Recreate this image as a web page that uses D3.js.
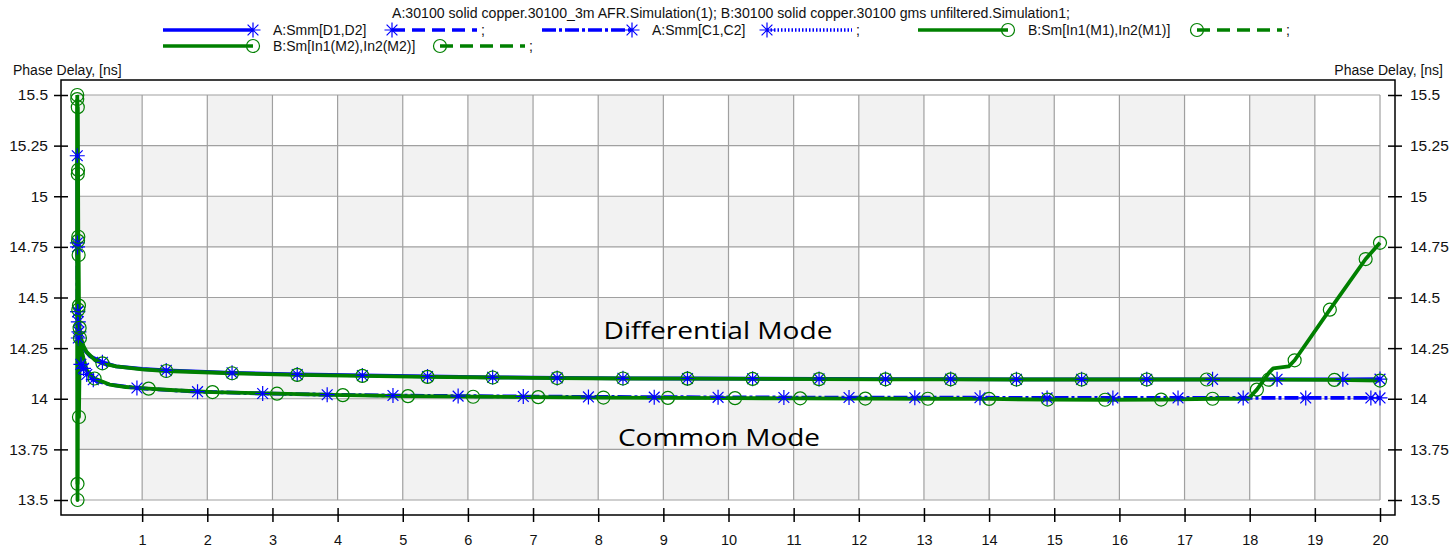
<!DOCTYPE html>
<html>
<head>
<meta charset="utf-8">
<script src="https://cdn.jsdelivr.net/npm/d3@7"></script>
<style>
body { margin: 0; background: #fff; }
svg { display: block; font-family: "Liberation Sans", Arial, sans-serif; }
</style>
</head>
<body>
<svg></svg>
<script>
const width = 1450;
const height = 548;

const title = "A:30100 solid copper.30100_3m AFR.Simulation(1); B:30100 solid copper.30100 gms unfiltered.Simulation1;";
const yTitle = "Phase Delay, [ns]";
const xTicks = d3.range(1, 21);
const yTicks = [13.5, 13.75, 14, 14.25, 14.5, 14.75, 15, 15.25, 15.5];
const seriesNames = ["A:Smm[D1,D2]", "A:Smm[C1,C2]", "B:Sm[In1(M1),In2(M1)]", "B:Sm[In1(M2),In2(M2)]"];
const notes = ["Differential Mode", "Common Mode"];

// A: differential (blue, solid, asterisks)
const dX = [0.004, 0.008, 0.012, 0.02, 0.03, 0.05, 0.08, 0.12, 0.2, 0.39, 0.6, 1.0, 1.37, 2.38, 3.38, 4.38, 5.38, 6.38, 7.37, 8.38, 9.37, 10.37, 11.39, 12.41, 13.41, 14.42, 15.42, 16.42, 17.43, 18.42, 19.43, 20];
const dY = [15.2, 14.75, 14.43, 14.38, 14.33, 14.3, 14.27, 14.24, 14.21, 14.18, 14.16, 14.147, 14.14, 14.128, 14.12, 14.115, 14.11, 14.106, 14.103, 14.101, 14.1, 14.099, 14.098, 14.097, 14.097, 14.096, 14.096, 14.096, 14.096, 14.096, 14.096, 14.097];
const dMarks = [0.004, 0.008, 0.012, 0.02, 0.03, 0.39, 1.37, 2.38, 3.38, 4.38, 5.38, 6.38, 7.37, 8.38, 9.37, 10.37, 11.39, 12.41, 13.41, 14.42, 15.42, 16.42, 17.43, 18.42, 19.43, 20];

// A: common (blue, dash-dot, asterisks)
const cX = [0.006, 0.01, 0.02, 0.04, 0.06, 0.1, 0.15, 0.25, 0.5, 0.92, 1.3, 1.85, 2.85, 3.84, 4.85, 5.85, 6.85, 7.85, 8.86, 9.84, 10.85, 11.85, 12.86, 13.86, 14.89, 15.9, 16.9, 17.9, 18.86, 19.86, 20];
const cY = [14.77, 14.43, 14.3, 14.22, 14.17, 14.15, 14.12, 14.094, 14.07, 14.053, 14.045, 14.035, 14.026, 14.02, 14.016, 14.013, 14.011, 14.009, 14.008, 14.007, 14.006, 14.006, 14.005, 14.005, 14.004, 14.004, 14.004, 14.004, 14.004, 14.004, 14.004];
const cMarks = [0.006, 0.01, 0.02, 0.06, 0.1, 0.15, 0.25, 0.92, 1.85, 2.85, 3.84, 4.85, 5.85, 6.85, 7.85, 8.86, 9.84, 10.85, 11.85, 12.86, 13.86, 14.89, 15.9, 16.9, 17.9, 18.86, 19.86, 20];

// B: M1 (green, solid, circles) - upper
const m1X = [0.004, 0.008, 0.012, 0.016, 0.02, 0.025, 0.03, 0.04, 0.06, 0.1, 0.15, 0.28, 0.39, 0.6, 1.0, 1.37, 2.38, 3.38, 4.38, 5.38, 6.38, 7.37, 8.38, 9.37, 10.37, 11.39, 12.41, 13.41, 14.42, 15.42, 16.42, 17.34, 18.29, 19.3, 20];
const m1Y = [15.5, 13.5, 15.44, 15.13, 14.8, 14.71, 14.46, 14.35, 14.3, 14.26, 14.23, 14.19, 14.175, 14.16, 14.145, 14.137, 14.126, 14.118, 14.113, 14.108, 14.105, 14.102, 14.1, 14.099, 14.098, 14.097, 14.096, 14.096, 14.095, 14.095, 14.095, 14.095, 14.094, 14.093, 14.09];
const m1Marks = [0.004, 0.008, 0.012, 0.016, 0.02, 0.025, 0.03, 0.04, 0.39, 1.37, 2.38, 3.38, 4.38, 5.38, 6.38, 7.37, 8.38, 9.37, 10.37, 11.39, 12.41, 13.41, 14.42, 15.42, 16.42, 17.34, 18.29, 19.3, 20];

// B: M2 (green, solid, circles) - lower, rises after 18
const m2X = [0.004, 0.008, 0.012, 0.016, 0.02, 0.03, 0.045, 0.07, 0.1, 0.15, 0.27, 0.5, 0.75, 1.1, 1.5, 2.08, 3.07, 4.08, 5.08, 6.08, 7.08, 8.08, 9.07, 10.1, 11.1, 12.1, 13.06, 14.0, 14.9, 15.78, 16.64, 17.43, 17.98, 18.11, 18.3, 18.36, 18.6, 18.69, 19.23, 19.78, 20];
const m2Y = [15.48, 13.58, 15.11, 14.78, 14.44, 13.91, 14.3, 14.24, 14.2, 14.14, 14.1, 14.07, 14.058, 14.05, 14.042, 14.033, 14.025, 14.018, 14.013, 14.01, 14.008, 14.006, 14.004, 14.003, 14.002, 14.001, 14.0, 13.999, 13.996, 13.995, 13.996, 14.0, 14.0, 14.045, 14.13, 14.15, 14.16, 14.19, 14.44, 14.69, 14.77];
const m2Marks = [0.004, 0.008, 0.012, 0.016, 0.02, 0.03, 0.045, 0.27, 1.1, 2.08, 3.07, 4.08, 5.08, 6.08, 7.08, 8.08, 9.07, 10.1, 11.1, 12.1, 13.06, 14.0, 14.9, 15.78, 16.64, 17.43, 18.11, 18.69, 19.23, 19.78, 20];

const blue = "#0000ff";
const green = "#008000";
const gridColor = "#a0a0a0";

const svg = d3.select("svg").attr("width", width).attr("height", height);

const x = d3.scaleLinear().domain([0, 20]).range([77, 1380]);
const y = d3.scaleLinear().domain([13.5, 15.5]).range([500, 95]);

const axisLeftX = 61, axisRightX = 1395, axisBottomY = 515, frameTop = 80;

// checkerboard background
const cells = [];
for (let c = 0; c < 20; c++) {
    for (let r = 0; r < 8; r++) {
        if ((c + r) % 2 === 0) cells.push({c, r});
    }
}
svg.append("g").selectAll("rect")
    .data(cells)
    .enter().append("rect")
    .attr("x", d => x(d.c))
    .attr("y", d => y(15.5 - d.r * 0.25))
    .attr("width", d => x(d.c + 1) - x(d.c))
    .attr("height", d => y(15.5 - (d.r + 1) * 0.25) - y(15.5 - d.r * 0.25))
    .attr("fill", "#f2f2f2");

// grid lines
const grid = svg.append("g").attr("stroke", gridColor).attr("stroke-width", 1.2);
grid.selectAll(".vg").data(d3.range(0, 21)).enter().append("line")
    .attr("x1", d => x(d)).attr("x2", d => x(d))
    .attr("y1", y(15.5)).attr("y2", y(13.5));
grid.selectAll(".hg").data(yTicks).enter().append("line")
    .attr("y1", d => y(d)).attr("y2", d => y(d))
    .attr("x1", x(0)).attr("x2", x(20));

// frame
svg.append("path")
    .attr("d", `M${axisLeftX},${axisBottomY}V${frameTop}H${axisRightX}V${axisBottomY}Z`)
    .attr("fill", "none").attr("stroke", "#000").attr("stroke-width", 1.5);

// axes
const bottomAxis = svg.append("g")
    .attr("transform", `translate(0,${axisBottomY})`)
    .call(d3.axisBottom(x).tickValues(xTicks).tickFormat(d3.format("d")).tickSize(7));
bottomAxis.select(".domain").remove();
bottomAxis.selectAll(".tick line").attr("y1", -7).attr("y2", 7).attr("stroke-width", 1.5);
bottomAxis.selectAll(".tick text").attr("y", 20).attr("font-size", 14.5).attr("font-family", null).attr("fill", "#111");

const leftAxis = svg.append("g")
    .attr("transform", `translate(${axisLeftX},0)`)
    .call(d3.axisLeft(y).tickValues(yTicks).tickFormat(d => String(d)).tickSize(7));
leftAxis.select(".domain").remove();
leftAxis.selectAll(".tick line").attr("x1", -7).attr("x2", 7).attr("stroke-width", 1.5);
leftAxis.selectAll(".tick text").attr("x", -13).attr("font-size", 15.5).attr("font-family", null).attr("fill", "#111");

const rightAxis = svg.append("g")
    .attr("transform", `translate(${axisRightX},0)`)
    .call(d3.axisRight(y).tickValues(yTicks).tickFormat(d => String(d)).tickSize(7));
rightAxis.select(".domain").remove();
rightAxis.selectAll(".tick line").attr("x1", -7).attr("x2", 7).attr("stroke-width", 1.5);
rightAxis.selectAll(".tick text").attr("x", 15).attr("font-size", 15.5).attr("font-family", null).attr("fill", "#111");

svg.append("text").attr("x", 13).attr("y", 75).attr("font-size", 14).attr("fill", "#111").text(yTitle);
svg.append("text").attr("x", 1443).attr("y", 75).attr("text-anchor", "end").attr("font-size", 14).attr("fill", "#111").text(yTitle);

// markers
function asteriskPath(r) {
    const k = r * 0.72;
    return `M${-r},0H${r}M0,${-r}V${r}M${-k},${-k}L${k},${k}M${-k},${k}L${k},${-k}`;
}
function drawMarker(g, type, cx, cy, color) {
    if (type === "star") {
        g.append("path").attr("d", asteriskPath(7.5)).attr("transform", `translate(${cx},${cy})`)
            .attr("stroke", color).attr("stroke-width", 1.2).attr("fill", "none");
    } else {
        g.append("circle").attr("cx", cx).attr("cy", cy).attr("r", 6.5)
            .attr("stroke", color).attr("stroke-width", 1.2).attr("fill", "none");
    }
}

// series
const series = [
    {xs: dX, ys: dY, marks: dMarks, color: blue, dash: null, marker: "star"},
    {xs: cX, ys: cY, marks: cMarks, color: blue, dash: "14,3,3,3", marker: "star"},
    {xs: m1X, ys: m1Y, marks: m1Marks, color: green, dash: null, marker: "circle"},
    {xs: m2X, ys: m2Y, marks: m2Marks, color: green, dash: null, marker: "circle"}
];
const line = d3.line().x(d => x(d[0])).y(d => y(d[1]));
const plot = svg.append("g");
series.forEach(s => {
    const pts = s.xs.map((v, i) => [v, s.ys[i]]);
    plot.append("path")
        .datum(pts)
        .attr("d", line)
        .attr("fill", "none")
        .attr("stroke", s.color)
        .attr("stroke-width", 3.8)
        .attr("stroke-linejoin", "round")
        .attr("stroke-dasharray", s.dash);
});
series.forEach(s => {
    const mg = plot.append("g");
    s.marks.forEach(mx => {
        const i = s.xs.indexOf(mx);
        drawMarker(mg, s.marker, x(s.xs[i]), y(s.ys[i]), s.color);
    });
});

// annotations
svg.append("text").attr("x", 718).attr("y", 339).attr("text-anchor", "middle")
    .attr("font-family", "'Open Sans', sans-serif").attr("font-size", 24)
    .attr("textLength", 229).attr("lengthAdjust", "spacingAndGlyphs").text(notes[0]);
svg.append("text").attr("x", 719).attr("y", 446).attr("text-anchor", "middle")
    .attr("font-family", "'Open Sans', sans-serif").attr("font-size", 24)
    .attr("textLength", 202).attr("lengthAdjust", "spacingAndGlyphs").text(notes[1]);

// legend
const legend = svg.append("g").attr("font-size", 14).attr("fill", "#111");
legend.append("text").attr("x", 392).attr("y", 18).attr("textLength", 678)
    .attr("lengthAdjust", "spacingAndGlyphs").text(title);

function legendLine(x1, x2, yy, color, dash) {
    legend.append("line").attr("x1", x1).attr("x2", x2).attr("y1", yy).attr("y2", yy)
        .attr("stroke", color).attr("stroke-width", 3.5).attr("stroke-dasharray", dash);
}
function legendEntry(lx, yy, s, name) {
    legendLine(lx, lx + 90, yy, s.color, s.dash);
    drawMarker(legend, s.marker, lx + 90, yy, s.color);
    legend.append("text").attr("x", lx + 110).attr("y", yy + 5).text(name);
}
function legendGhost(gx, yy, s, dash) {
    legendLine(gx, gx + 85, yy, s.color, dash);
    drawMarker(legend, s.marker, gx, yy, s.color);
    legend.append("text").attr("x", gx + 89).attr("y", yy + 5).text(";");
}
legendEntry(163, 30, series[0], seriesNames[0]);
legendGhost(392, 30, series[0], "13,7");
legendEntry(542, 30, series[1], seriesNames[1]);
legendGhost(767, 30, series[1], "1.5,2");
legendEntry(918, 30, series[2], seriesNames[2]);
legendGhost(1197, 30, series[2], "13,7");
legendEntry(163, 46, series[3], seriesNames[3]);
legendGhost(440, 46, series[3], "13,7");
</script>
</body>
</html>
